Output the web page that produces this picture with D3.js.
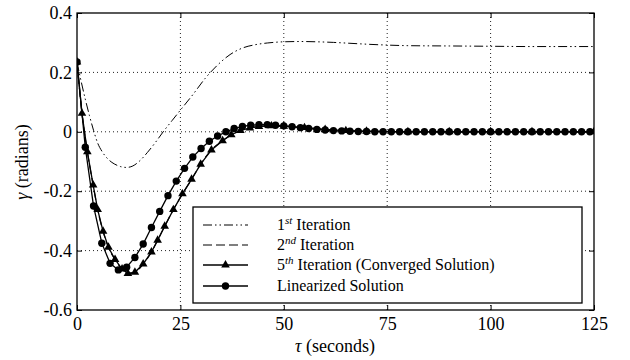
<!DOCTYPE html>
<html>
<head>
<meta charset="utf-8">
<script src="https://cdn.jsdelivr.net/npm/d3@7"></script>
<style>
body{margin:0;background:#fff;}
svg text{font-family:'Liberation Serif','DejaVu Serif',serif;fill:#000;}
</style>
</head>
<body>
<script>
// tick values
var xTicks=[0,25,50,75,100,125];
var yTicks=[-0.6,-0.4,-0.2,0,0.2,0.4];
var yTickLabels=["-0.6","-0.4","-0.2","0","0.2","0.4"];

// 1st iteration (dash-dot-dot)
var iter1Time=[0,1,2,3,4,5,6,7.5,9,10.5,12,13.5,15,17,19,21,23,25,28,31,34,37,40,43,46,50,54,58,62,66,70,75,80,90,100,110,125];
var iter1Values=[0.235,0.17,0.11,0.055,0.005,-0.038,-0.065,-0.092,-0.108,-0.117,-0.12,-0.115,-0.1,-0.07,-0.035,0.003,0.038,0.073,0.125,0.18,0.225,0.26,0.282,0.293,0.299,0.303,0.304,0.303,0.301,0.298,0.295,0.292,0.290,0.289,0.288,0.287,0.287];

// 2nd iteration (dashed, lies under the converged curve)
var iter2Time=[0,1.2,2.5,3.9,5,6.3,7.6,9.2,10.9,12.3,14,16,18,19.5,21.2,23.3,25.5,27.7,29.9,32.5,35.2,37.3,39.5,41.8,44,47,50,55,60,65,70,80,90,100,110,125];
var iter2Values=[0.235,0.062,-0.067,-0.179,-0.262,-0.335,-0.389,-0.43,-0.462,-0.477,-0.473,-0.445,-0.405,-0.365,-0.318,-0.262,-0.209,-0.16,-0.109,-0.061,-0.03,-0.01,0.004,0.013,0.018,0.02,0.019,0.014,0.008,0.004,0.002,0,0,0,0,0];

// 5th iteration (converged solution, triangles)
var iter5Time=[0,1.2,2.5,3.9,5,6.3,7.6,9.2,10.9,12.3,14,16,18,19.5,21.2,23.3,25.5,27.7,29.9,32.5,35.2,37.3,39.5,41.8,44,47,50,55,60,65,70,80,90,100,110,125];
var iter5Values=[0.235,0.062,-0.067,-0.179,-0.262,-0.335,-0.389,-0.43,-0.462,-0.477,-0.473,-0.445,-0.405,-0.365,-0.318,-0.262,-0.209,-0.16,-0.109,-0.061,-0.03,-0.01,0.004,0.013,0.018,0.02,0.019,0.014,0.008,0.004,0.002,0,0,0,0,0];

// linearized solution (circles)
var linTime=[0,2,4,6,8,10,12,14,16,18,20,22,24,26,28,30,32,34,36,38,40,42,44,46,48,50,52,54,56,58,60,62,64,66,68,70,72,74,76,78,80,82,84,86,88,90,92,94,96,98,100,102,104,106,108,110,112,114,116,118,120,122,124];
var linValues=[0.235,-0.052,-0.25,-0.375,-0.443,-0.465,-0.456,-0.423,-0.378,-0.322,-0.268,-0.215,-0.166,-0.123,-0.085,-0.056,-0.032,-0.014,0,0.011,0.018,0.022,0.024,0.024,0.022,0.02,0.017,0.014,0.011,0.008,0.006,0.004,0.003,0.002,0.001,0.001,0,0,0,0,0,0,0,0,0,0,0,0,0,0,0,0,0,0,0,0,0,0,0,0,0,0,0];

var legendLabels=[["1","st"," Iteration"],["2","nd"," Iteration"],["5","th"," Iteration (Converged Solution)"],["Linearized Solution","",""]];

var width=630;
var height=360;
var plot={left:77, top:13, right:594, bottom:310};
var serif="'Liberation Serif','DejaVu Serif',serif";

var svg=d3.select("body")
    .append("svg")
    .attr("width",width)
    .attr("height",height)
    .attr("font-family",serif);

var x=d3.scaleLinear().domain([0,125]).range([plot.left,plot.right]);
var y=d3.scaleLinear().domain([-0.6,0.4]).range([plot.bottom,plot.top]);

function pairs(t,v){
    return t.map(function(d,i){ return [d,v[i]]; });
}

svg.append("clipPath").attr("id","clip")
    .append("rect")
    .attr("x",plot.left).attr("y",plot.top)
    .attr("width",plot.right-plot.left).attr("height",plot.bottom-plot.top);

// dotted grid
svg.append("g").selectAll("line")
    .data(xTicks.slice(1,-1))
    .enter().append("line")
    .attr("x1",function(d){ return x(d); })
    .attr("x2",function(d){ return x(d); })
    .attr("y1",plot.top).attr("y2",plot.bottom)
    .attr("stroke","#222").attr("stroke-width",1)
    .attr("stroke-dasharray","1,3");
svg.append("g").selectAll("line")
    .data(yTicks.slice(1,-1))
    .enter().append("line")
    .attr("y1",function(d){ return y(d); })
    .attr("y2",function(d){ return y(d); })
    .attr("x1",plot.left).attr("x2",plot.right)
    .attr("stroke","#222").attr("stroke-width",1)
    .attr("stroke-dasharray","1,3");

// axes, ticks inward
var xAxis=svg.append("g")
    .attr("transform","translate(0,"+plot.bottom+")")
    .call(d3.axisBottom(x).tickValues(xTicks).tickSize(-5).tickPadding(7).tickFormat(d3.format("d")));
var xTop=svg.append("g")
    .attr("transform","translate(0,"+plot.top+")")
    .call(d3.axisTop(x).tickValues(xTicks).tickSize(-5).tickFormat(""));
var yAxis=svg.append("g")
    .attr("transform","translate("+plot.left+",0)")
    .call(d3.axisLeft(y).tickValues(yTicks).tickSize(-5).tickPadding(5)
        .tickFormat(function(d,i){ return yTickLabels[i]; }));
var yRight=svg.append("g")
    .attr("transform","translate("+plot.right+",0)")
    .call(d3.axisRight(y).tickValues(yTicks).tickSize(-5).tickFormat(""));

[xAxis,xTop,yAxis,yRight].forEach(function(a){
    a.attr("font-family",serif).attr("font-size",18);
    a.select(".domain").remove();
    a.selectAll("line").attr("stroke","#000").attr("stroke-width",1);
    a.selectAll("text").style("font-family",serif).style("font-size","18px");
});

svg.append("rect")
    .attr("x",plot.left).attr("y",plot.top)
    .attr("width",plot.right-plot.left).attr("height",plot.bottom-plot.top)
    .attr("fill","none").attr("stroke","#000").attr("stroke-width",1.3);

// axis titles
var xt=svg.append("text")
    .attr("x",335).attr("y",352)
    .attr("text-anchor","middle")
    .style("font-family",serif)
    .style("font-size","18px");
xt.append("tspan").attr("font-style","italic").text("τ");
xt.append("tspan").text(" (seconds)");

var yt=svg.append("text")
    .attr("transform","translate(28,162) rotate(-90)")
    .attr("text-anchor","middle")
    .style("font-family",serif)
    .style("font-size","18px");
yt.append("tspan").attr("font-style","italic").text("γ");
yt.append("tspan").text(" (radians)");

// curves
var line=d3.line()
    .x(function(d){ return x(d[0]); })
    .y(function(d){ return y(d[1]); });
var smooth=d3.line()
    .curve(d3.curveMonotoneX)
    .x(function(d){ return x(d[0]); })
    .y(function(d){ return y(d[1]); });

var curves=svg.append("g").attr("clip-path","url(#clip)");

curves.append("path")
    .attr("d",smooth(pairs(iter1Time,iter1Values)))
    .attr("fill","none").attr("stroke","#000").attr("stroke-width",1)
    .attr("stroke-dasharray","9,3,1.5,3,1.5,3");

curves.append("path")
    .attr("d",smooth(pairs(iter2Time,iter2Values)))
    .attr("fill","none").attr("stroke","#000").attr("stroke-width",1.2)
    .attr("stroke-dasharray","9,4");

curves.append("path")
    .attr("d",line(pairs(iter5Time,iter5Values)))
    .attr("fill","none").attr("stroke","#000").attr("stroke-width",1.3);

var tri=d3.symbol().type(d3.symbolTriangle).size(32);
curves.selectAll(".tri")
    .data(pairs(iter5Time,iter5Values))
    .enter().append("path")
    .attr("class","tri")
    .attr("d",tri)
    .attr("transform",function(d){ return "translate("+x(d[0])+","+y(d[1])+")"; })
    .attr("fill","#000");

curves.append("path")
    .attr("d",line(pairs(linTime,linValues)))
    .attr("fill","none").attr("stroke","#000").attr("stroke-width",1.3);

curves.selectAll(".dot")
    .data(pairs(linTime,linValues))
    .enter().append("circle")
    .attr("class","dot")
    .attr("cx",function(d){ return x(d[0]); })
    .attr("cy",function(d){ return y(d[1]); })
    .attr("r",3.7)
    .attr("fill","#000");

// legend
var legend=svg.append("g");
legend.append("rect")
    .attr("x",193).attr("y",207).attr("width",389).attr("height",96)
    .attr("fill","#fff").attr("stroke","#000").attr("stroke-width",1.3);

var rowY=[225,245,265,286];
var dashes=["9,3,1.5,3,1.5,3","9,4",null,null];
rowY.forEach(function(ry,i){
    var l=legend.append("line")
        .attr("x1",203).attr("x2",248).attr("y1",ry).attr("y2",ry)
        .attr("stroke","#000").attr("stroke-width",i<2?1.1:1.3);
    if(dashes[i]) l.attr("stroke-dasharray",dashes[i]);
    if(i==2){
        legend.append("path").attr("d",tri)
            .attr("transform","translate(225.5,"+ry+")").attr("fill","#000");
    }
    if(i==3){
        legend.append("circle").attr("cx",225.5).attr("cy",ry).attr("r",3.7).attr("fill","#000");
    }
    var t=legend.append("text")
        .attr("x",277).attr("y",ry+5)
        .style("font-family",serif)
        .style("font-size","16px");
    var lab=legendLabels[i];
    t.append("tspan").text(lab[0]);
    if(lab[1]){
        t.append("tspan").attr("dy",-6).style("font-size","11px").attr("font-style","italic").text(lab[1]);
        t.append("tspan").attr("dy",6).text(lab[2]);
    }
});
</script>
</body>
</html>
